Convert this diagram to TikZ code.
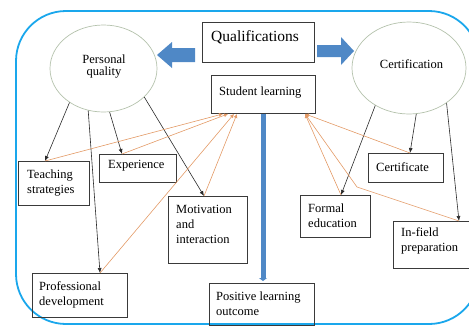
\documentclass[tikz,border=0pt]{standalone}
\usepackage{fontspec}
\setmainfont{Liberation Serif}
\usetikzlibrary{arrows.meta,calc,shapes.geometric}
\definecolor{framec}{HTML}{1AA7EC}
\definecolor{bluec}{HTML}{4F88C6}
\definecolor{boxc}{HTML}{3A3A3A}
\definecolor{ellc}{HTML}{B4C2AC}
\definecolor{arrc}{HTML}{2A2A2A}
\definecolor{orc}{HTML}{E39A66}
\begin{document}
\begin{tikzpicture}[x=1pt,y=-1pt,
  bx/.style={draw=boxc, line width=0.9pt, rectangle, anchor=north west, inner sep=0pt},
  tx/.style={anchor=base west, inner sep=0pt, align=left, font=\fontsize{12.5}{15}\selectfont},
  ell/.style={draw=ellc, line width=0.7pt, ellipse, inner sep=0pt},
  blk/.style={draw=arrc, line width=0.6pt, -{Latex[length=5pt,width=4pt]}},
  org/.style={draw=orc, line width=0.6pt, -{Latex[length=4pt,width=4pt]}},
  blockarrow/.style={fill=bluec, draw=none}
]
\useasboundingbox (0,0) rectangle (469,325);
\clip (0,0) rectangle (469,325);
% frame
\draw[framec, line width=1.8pt, rounded corners=50pt] (16,11) rectangle (479,324);

% ellipses
\node[ell, minimum width=107pt, minimum height=87pt] (pq) at (103.5,68.5) {};
\node[ell, minimum width=114pt, minimum height=92pt] (cf) at (409,68) {};
\node[anchor=base, inner sep=0pt, align=center, font=\fontsize{12.5}{12}\selectfont] (pq-t) at (104,75) {Personal\\quality};
\node[anchor=base, inner sep=0pt, font=\fontsize{12.5}{15}\selectfont] (cf-t) at (411.5,68) {Certification};

% boxes
\node[bx, minimum width=112pt, minimum height=40pt] (q) at (202,22) {};
\node[bx, minimum width=104pt, minimum height=38pt] (sl) at (211,75) {};
\node[bx, minimum width=71pt, minimum height=44pt] (ts) at (18,161) {};
\node[bx, minimum width=77pt, minimum height=28pt] (ex) at (99,154) {};
\node[bx, minimum width=79pt, minimum height=67pt] (mi) at (168,196) {};
\node[bx, minimum width=95pt, minimum height=44pt] (pd) at (32,273) {};
\node[bx, minimum width=105pt, minimum height=42pt] (plo) at (209,283) {};
\node[bx, minimum width=75pt, minimum height=29pt] (ce) at (368,153) {};
\node[bx, minimum width=70pt, minimum height=42pt] (fe) at (300,195) {};
\node[bx, minimum width=80pt, minimum height=47pt] (ifp) at (393,221) {};

% texts (base = baseline of last line)
\node[tx, font=\fontsize{15.5}{18}\selectfont] (q-t) at (211,41) {Qualifications};
\node[tx] (sl-t) at (219,95) {Student learning};
\node[tx] (ts-t) at (27,193) {Teaching\\strategies};
\node[tx] (ex-t) at (108,168) {Experience};
\node[tx] (mi-t) at (176,243) {Motivation\\and\\interaction};
\node[tx] (pd-t) at (39,305) {Professional\\development};
\node[tx] (plo-t) at (216,315) {Positive learning\\outcome};
\node[tx] (ce-t) at (376,171) {Certificate};
\node[tx] (fe-t) at (308,227) {Formal\\education};
\node[tx] (ifp-t) at (401,251) {In-field\\preparation};

% block arrows
\fill[blockarrow] (195,48) -- (172,48) -- (172,42) -- (157,55) -- (172,68) -- (172,62) -- (195,62) -- cycle;
\fill[blockarrow] (317,45) -- (341,45) -- (341,37) -- (354,51) -- (341,65) -- (341,57) -- (317,57) -- cycle;

% connection points
\coordinate (ts-in) at ([xshift=27pt]ts.north west);
\coordinate (ex-in) at ([xshift=23pt]ex.north west);
\coordinate (mi-in) at ([xshift=36pt]mi.north west);
\coordinate (pd-in) at ([xshift=68pt]pd.north west);
\coordinate (ce-in) at ([xshift=42pt]ce.north west);
\coordinate (fe-in) at ([xshift=41pt]fe.north west);
\coordinate (ifp-in) at ([xshift=66pt]ifp.north west);
\coordinate (bend) at (357,187);

% black arrows
\draw[blk] (pq.-135) -- (ts-in);
\draw[blk] (pq.-110) -- (pd-in);
\draw[blk] (pq.-82) -- (ex-in);
\draw[blk] (pq.-35) -- (mi-in);
\draw[blk] (cf.-132) -- (fe-in);
\draw[blk] (cf.-81) -- (ce-in);
\draw[blk] (cf.-43) -- (ifp-in);

% orange arrows
\draw[org] (ts-in) -- ([xshift=12pt]sl.south west);
\draw[org] (ex-in) -- ([xshift=17pt]sl.south west);
\draw[org] (pd-in) -- ([xshift=23pt]sl.south west);
\draw[org] (mi-in) -- ([xshift=26pt]sl.south west);
\draw[org] (ce-in) -- ([xshift=94pt]sl.south west);
\draw[org] (fe-in) -- ([xshift=94pt]sl.south west);
\draw[org] (ifp-in) -- (bend) -- ([xshift=94pt]sl.south west);

% blue vertical arrow
\draw[bluec, line width=5pt, -{Triangle[length=3pt,width=8pt]}] ([xshift=52pt]sl.south west) -- ([xshift=54pt,yshift=2pt]plo.north west);
\end{tikzpicture}
\end{document}
